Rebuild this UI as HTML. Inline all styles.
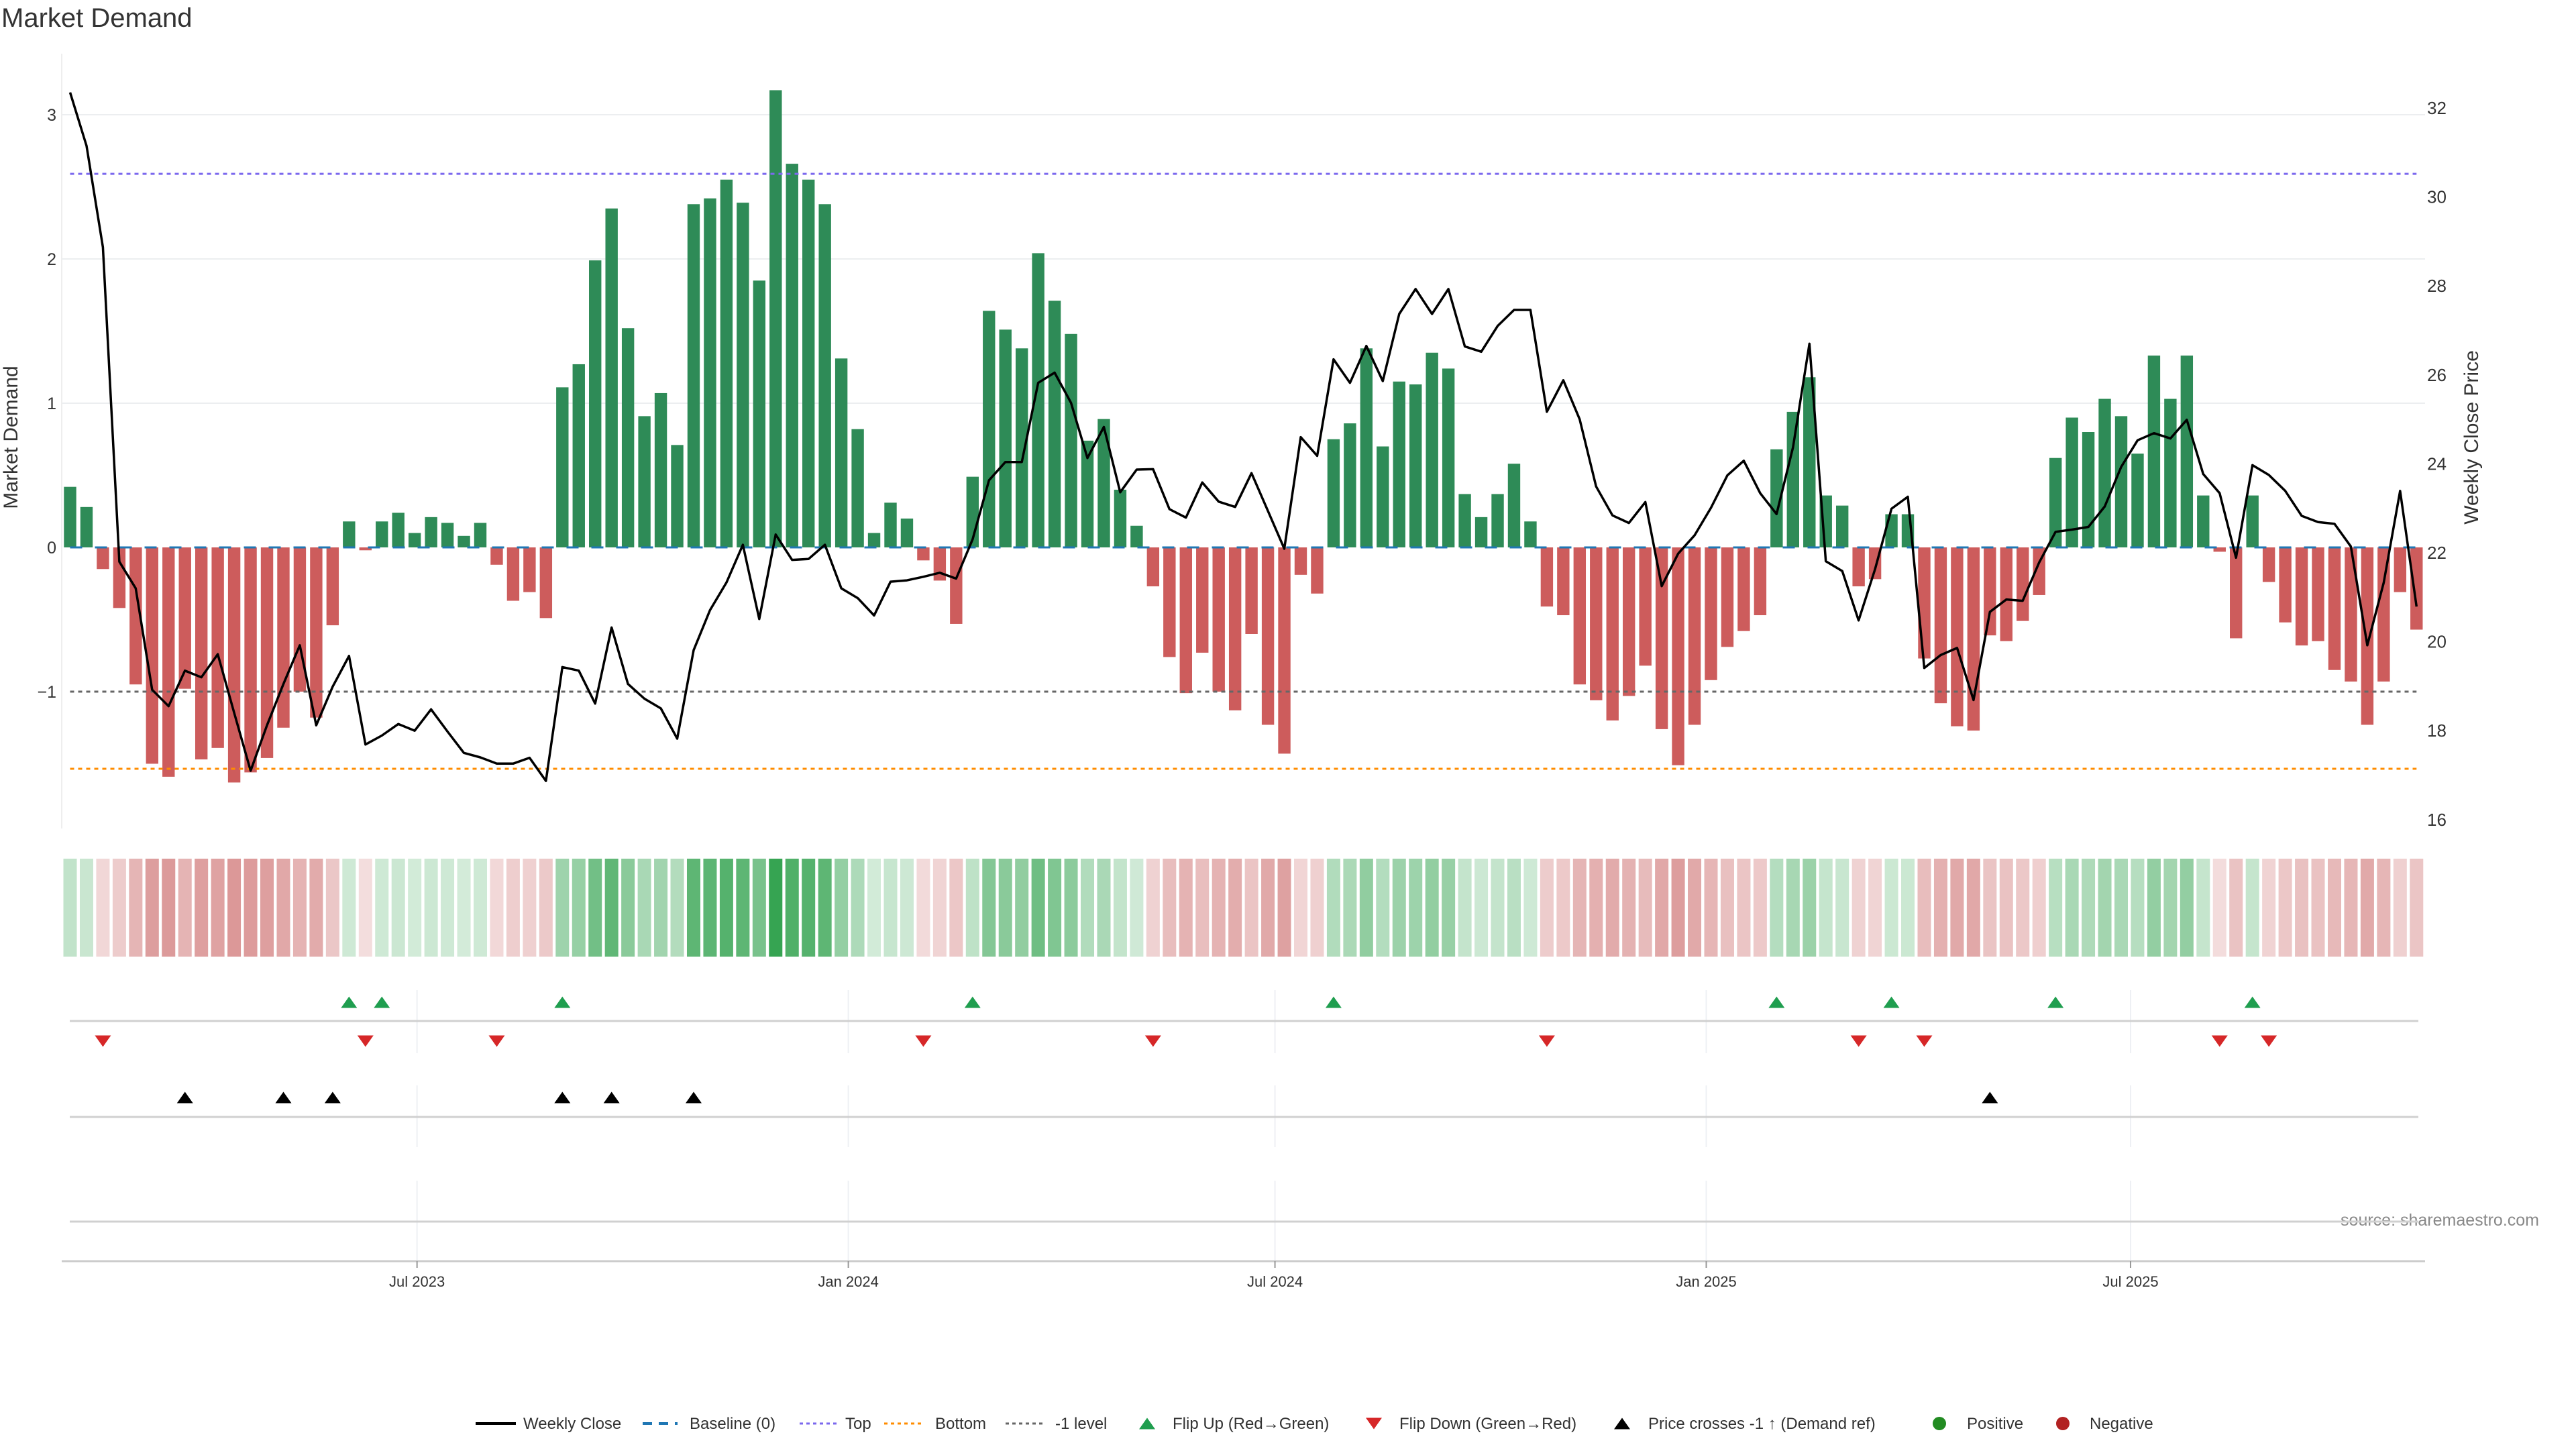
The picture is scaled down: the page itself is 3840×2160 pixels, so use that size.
<!DOCTYPE html>
<html><head><meta charset="utf-8"><title>Market Demand</title>
<style>
html,body{margin:0;padding:0;background:#fff;}
svg{display:block;font-family:"Liberation Sans","DejaVu Sans",sans-serif;}
</style></head>
<body>
<svg id="chart" width="3840" height="2160" viewBox="0 0 3840 2160" xmlns="http://www.w3.org/2000/svg">
<text x="2" y="40" font-size="40" fill="#333">Market Demand</text>
<text transform="translate(26,652) rotate(-90)" text-anchor="middle" font-size="30" fill="#333">Market Demand</text>
<text transform="translate(3694,652) rotate(-90)" text-anchor="middle" font-size="30" fill="#333">Weekly Close Price</text>
<text x="3785" y="1827" text-anchor="end" font-size="25" fill="#888">source: sharemaestro.com</text>
<g id="grid"></g>
<g id="bars"></g>
<g id="refs"></g>
<g id="price"></g>
<g id="heat"></g>
<g id="events"></g>
<g id="xaxis"></g>
<g id="legend"></g>
</svg>
<script>
const demand = [0.42,0.28,-0.15,-0.42,-0.95,-1.50,-1.59,-0.98,-1.47,-1.39,-1.63,-1.56,-1.46,-1.25,-1.0,-1.18,-0.54,0.18,-0.02,0.18,0.24,0.10,0.21,0.17,0.08,0.17,-0.12,-0.37,-0.31,-0.49,1.11,1.27,1.99,2.35,1.52,0.91,1.07,0.71,2.38,
2.42,2.55,2.39,1.85,3.17,2.66,2.55,2.38,1.31,0.82,0.10,0.31,0.20,-0.09,-0.23,-0.53,0.49,1.64,1.51,1.38,2.04,1.71,1.48,0.74,0.89,0.40,0.15,-0.27,-0.76,-1.01,-0.73,-1.0,-1.13,-0.60,-1.23,-1.43,-0.19,-0.32,
0.75,0.86,1.38,0.70,1.15,1.13,1.35,1.24,0.37,0.21,0.37,0.58,0.18,-0.41,-0.47,-0.95,-1.06,-1.20,-1.03,-0.82,-1.26,-1.51,-1.23,-0.92,-0.69,-0.58,-0.47,0.68,0.94,1.18,0.36,0.29,-0.27,-0.22,0.23,0.23,-0.77,-1.08,-1.24,
-1.27,-0.61,-0.65,-0.51,-0.33,0.62,0.90,0.80,1.03,0.91,0.65,1.33,1.03,1.33,0.36,-0.03,-0.63,0.36,-0.24,-0.52,-0.68,-0.65,-0.85,-0.93,-1.23,-0.93,-0.31,-0.57];
const price = [32.35,31.15,28.87,21.8,21.2,18.92,18.55,19.35,19.2,19.72,18.4,17.1,18.12,19.05,19.92,18.12,18.99,19.68,17.69,17.89,18.15,18.0,18.48,17.98,17.5,17.4,17.26,17.26,17.39,16.87,19.43,19.35,18.61,20.32,19.05,18.72,18.5,17.82,19.81,
20.71,21.33,22.18,20.51,22.41,21.84,21.86,22.18,21.2,20.98,20.59,21.35,21.38,21.46,21.55,21.42,22.3,23.63,24.04,24.04,25.82,26.05,25.37,24.13,24.83,23.36,23.87,23.88,22.98,22.79,23.58,23.15,23.03,23.79,22.94,22.09,24.6,24.18,
26.35,25.82,26.65,25.86,27.37,27.93,27.37,27.93,26.64,26.52,27.1,27.46,27.46,25.17,25.88,25.0,23.49,22.84,22.67,23.14,21.25,21.98,22.39,23.01,23.74,24.07,23.34,22.87,24.37,26.7,21.81,21.59,20.48,21.63,22.99,23.26,19.41,19.7,19.86,
18.69,20.67,20.95,20.92,21.78,22.47,22.52,22.58,23.04,23.93,24.53,24.69,24.57,24.99,23.77,23.34,21.89,23.97,23.75,23.39,22.83,22.69,22.65,22.14,19.92,21.33,23.39,20.79];
const leftTicks = [3,2,1,0,-1];
const leftTickLabels = ["3","2","1","0","\u22121"];
const rightTicks = [32,30,28,26,24,22,20,18,16];
const topLevel = 2.59;
const bottomLevel = -1.535;
const minusLevel = -1;
const firstWeek = "2023-02-03";
const dateTicks = ["2023-07-01","2024-01-01","2024-07-01","2025-01-01","2025-07-01"];
const dateTickLabels = ["Jul 2023","Jan 2024","Jul 2024","Jan 2025","Jul 2025"];

const NS = "http://www.w3.org/2000/svg";
const PITCH = 24.46, X0 = 104.5, PL = 92, PR = 3615;
function xi(i){ return X0 + i*PITCH; }
function yL(v){ return 816 - 215*v; }
function yR(p){ return 161 + (32-p)*66.3; }
function xDate(s){ return X0 + (Date.parse(s) - Date.parse(firstWeek))/86400000/7*PITCH; }
function mk(tag, attrs, parent){ const e=document.createElementNS(NS,tag); for(const k in attrs) e.setAttribute(k,attrs[k]); parent.appendChild(e); return e; }

const grid=document.getElementById('grid');
const line0=mk('line',{x1:PL,y1:80,x2:PL,y2:1235,stroke:'#eee','stroke-width':2},grid);


leftTicks.forEach((v,k)=>{
  if(v>0){ const g=mk('line',{x1:PL,y1:yL(v),x2:PR,y2:yL(v),stroke:'#eceef0','stroke-width':2},grid);
    
     }
  const t=mk('text',{x:84,y:yL(v)+9,'text-anchor':'end','font-size':25,fill:'#333'},grid);
  
  
  t.textContent=leftTickLabels[k];
});
rightTicks.forEach(p=>{
  const t=mk('text',{x:3618,y:yR(p)+9,'font-size':26,fill:'#333'},grid);
  
  
  t.textContent=String(p);
});

const bars=document.getElementById('bars');
const BW=18.4;
demand.forEach((v,i)=>{
  const y0=yL(0), y1=yL(v);
  const r=mk('rect',{x:xi(i)-BW/2,y:Math.min(y0,y1),width:BW,height:Math.max(1.5,Math.abs(y1-y0)),fill:v>=0?'#2e8b57':'#cd5c5c'},bars);
  
  
});

const refs=document.getElementById('refs');
const xa=xi(0), xb=xi(demand.length-1);
function ref(v,color,dash,w,name){ const l=mk('line',{x1:xa,y1:yL(v),x2:xb,y2:yL(v),stroke:color,'stroke-width':w,'stroke-dasharray':dash},refs);
  
   }
ref(0,'#1f77b4','18 19',3,'baseline-zero');
ref(topLevel,'#7b68ee','6 6',3,'top-level-line');
ref(bottomLevel,'#ff8c00','6 6',3,'bottom-level-line');
ref(minusLevel,'#666','6 6',3,'minus-one-level-line');

const pg=document.getElementById('price');
const pts=price.map((p,i)=>xi(i).toFixed(1)+','+yR(p).toFixed(1)).join(' ');
const pl=mk('polyline',{points:pts,fill:'none',stroke:'#000','stroke-width':3.5,'stroke-linejoin':'round'},pg);



const heat=document.getElementById('heat');
demand.forEach((v,i)=>{
  const a=Math.min(1,0.2+0.8*Math.abs(v)/3.17);
  const base=v>=0?[54,164,82]:[197,87,87];
  const c=base.map(b=>Math.round(255-a*(255-b)));
  const r=mk('rect',{x:xi(i)-10,y:1280,width:20,height:146,fill:'rgb('+c.join(',')+')'},heat);
  
  
});

const ev=document.getElementById('events');
dateTicks.forEach(d=>{
  const x=xDate(d);
  [[1476,1570],[1618,1710],[1760,1880]].forEach(s=>{
    const l=mk('line',{x1:x,y1:s[0],x2:x,y2:s[1],stroke:'#eef0f4','stroke-width':2},ev);
    
    
  });
});
[1522,1665,1821].forEach(y=>{
  const l=mk('line',{x1:104,y1:y,x2:3605,y2:y,stroke:'#d0d0d0','stroke-width':3},ev);
  
  
});
const limitPrice = 32 - (yL(minusLevel)-161)/66.3;
function tri(x,y,up,color,name){
  const h=17,w=12;
  const p=up?`${x},${y-h/2} ${x+w},${y+h/2} ${x-w},${y+h/2}`:`${x-w},${y-h/2} ${x+w},${y-h/2} ${x},${y+h/2}`;
  const t=mk('polygon',{points:p,fill:color},ev);
  
  
}
for(let i=1;i<demand.length;i++){
  if(demand[i-1]<0 && demand[i]>=0) tri(xi(i),1494,true,'#1f9e4f','flip-up-marker');
  if(demand[i-1]>=0 && demand[i]<0) tri(xi(i),1552,false,'#d62728','flip-down-marker');
  if(price[i-1]<limitPrice && price[i]>=limitPrice) tri(xi(i),1636,true,'#000','price-cross-marker');
}

const xg=document.getElementById('xaxis');
const ax=mk('line',{x1:92,y1:1880,x2:PR,y2:1880,stroke:'#ccc','stroke-width':3},xg);


dateTicks.forEach((d,k)=>{
  const x=xDate(d);
  const tk=mk('line',{x1:x,y1:1880,x2:x,y2:1890,stroke:'#999','stroke-width':2},xg);
  
  
  const t=mk('text',{x:x,y:1918,'text-anchor':'middle','font-size':22,fill:'#333'},xg);
  
  
  t.textContent=dateTickLabels[k];
});

const lg=document.getElementById('legend');
const LY=2122;
function ltext(x,s){ const t=mk('text',{x:x,y:LY+8,'font-size':24,fill:'#333'},lg);
  
  
  t.textContent=s; }
function lline(x1,x2,color,dash,w){ const l=mk('line',{x1:x1,y1:LY,x2:x2,y2:LY,stroke:color,'stroke-width':w,'stroke-dasharray':dash},lg);
  
   }
lline(709,769,'#000','none',4); ltext(780,'Weekly Close');
lline(958,1010,'#1f77b4','14 10',4); ltext(1028,'Baseline (0)');
lline(1192,1247,'#7b68ee','5 5',3); ltext(1260,'Top');
lline(1318,1376,'#ff8c00','5 5',3); ltext(1394,'Bottom');
lline(1499,1555,'#666','5 5',3); ltext(1573,'-1 level');
function lt(x,up,color){ const w=12,h=17,y=LY;
  const p=up?`${x},${y-h/2} ${x+w},${y+h/2} ${x-w},${y+h/2}`:`${x-w},${y-h/2} ${x+w},${y-h/2} ${x},${y+h/2}`;
  const t=mk('polygon',{points:p,fill:color},lg);
  
   }
lt(1710,true,'#1f9e4f'); ltext(1748,'Flip Up (Red\u2192Green)');
lt(2048,false,'#d62728'); ltext(2086,'Flip Down (Green\u2192Red)');
lt(2418,true,'#000'); ltext(2457,'Price crosses -1 \u2191 (Demand ref)');
const c1=mk('circle',{cx:2891,cy:LY,r:10,fill:'#228b22'},lg);


ltext(2932,'Positive');
const c2=mk('circle',{cx:3075,cy:LY,r:10,fill:'#b22222'},lg);


ltext(3115,'Negative');
</script>
</body></html>
